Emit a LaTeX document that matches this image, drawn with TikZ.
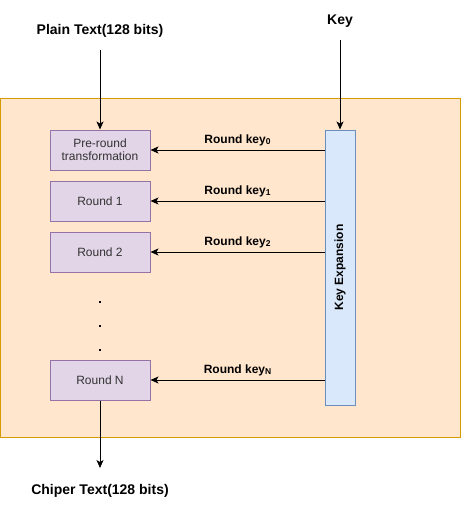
\documentclass[tikz,border=0pt]{standalone}
\usepackage{fontspec}
\setmainfont{Liberation Sans}
\usetikzlibrary{arrows.meta,positioning}
\definecolor{outerfill}{HTML}{FFE6CC}
\definecolor{outerline}{HTML}{D79B00}
\definecolor{roundfill}{HTML}{E1D5E7}
\definecolor{roundline}{HTML}{9673A6}
\definecolor{keyfill}{HTML}{DAE8FC}
\definecolor{keyline}{HTML}{6C8EBF}
\newcommand{\rksub}[1]{\raisebox{-0.15ex}{\fontsize{8.5}{8.5}\selectfont #1}}

\begin{document}
\begin{tikzpicture}[
    x=1pt, y=-1pt,
    box/.style={draw=roundline, fill=roundfill, line width=1pt, minimum width=100pt, minimum height=40pt, inner sep=0pt, align=center, font=\fontsize{12}{13}\selectfont, text=black!80},
    lbl/.style={font=\bfseries\fontsize{12}{14}\selectfont},
    biglbl/.style={font=\bfseries\fontsize{14}{16}\selectfont},
    arrow/.style={-{Stealth[length=8pt, width=7pt, inset=2pt]}, line width=0.8pt}
]
\useasboundingbox (0,0) rectangle (461,511);
\draw[draw=outerline, fill=outerfill, line width=1pt] (0.5,98) rectangle (460,437);

\node[box] (pre) at (100,150) {Pre-round\\transformation};
\node[box, below=10pt of pre] (round1) {Round 1};
\node[box, below=10pt of round1] (round2) {Round 2};
\node[box] (roundN) at (100,380) {Round N};
\node[draw=keyline, fill=keyfill, line width=1pt, minimum width=30pt, minimum height=275pt] (keyexp) at (340,267.5) {};
\node[lbl, rotate=90] (keylbl) at (keyexp.center) {Key Expansion};

% dots between round 2 and round N
\foreach \y in {302,326,350}
    \fill (98.8,\y-1.2) rectangle ++(2.5,2.5);

\node[biglbl] (plain) at (100,31) {Plain Text(128 bits)};
\node[biglbl] (key) at (340,21) {Key};
\node[biglbl] (cipher) at (100,491) {Chiper Text(128 bits)};
\coordinate (plainout) at (100,50);
\coordinate (keyout) at (340,40);
\coordinate (cipherin) at (100,468);

\draw[arrow] (plainout) -- (pre.north);
\draw[arrow] (keyout) -- (keyexp.north);
\draw[arrow] (roundN.south) -- (cipherin);
\draw[arrow] (keyexp.west |- pre.east) -- node[above, lbl]{Round key\rksub{0}} (pre.east);
\draw[arrow] (keyexp.west |- round1.east) -- node[above, lbl]{Round key\rksub{1}} (round1.east);
\draw[arrow] (keyexp.west |- round2.east) -- node[above, lbl]{Round key\rksub{2}} (round2.east);
\draw[arrow] (keyexp.west |- roundN.east) -- node[above, lbl]{Round key\rksub{N}} (roundN.east);
\end{tikzpicture}
\end{document}
